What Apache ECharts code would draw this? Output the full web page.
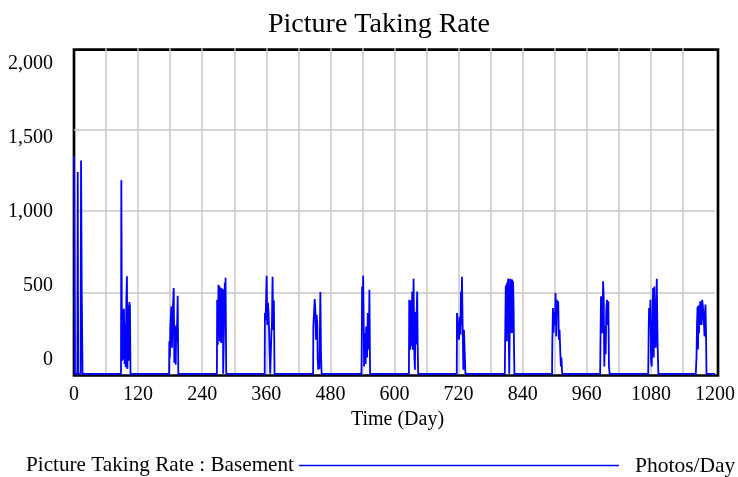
<!DOCTYPE html>
<html>
<head>
<meta charset="utf-8">
<script src="https://cdn.jsdelivr.net/npm/echarts@6/dist/echarts.min.js"></script>
<style>
html,body{margin:0;padding:0;background:#fff;}
#chart{width:738px;height:477px;}
</style>
</head>
<body>
<div id="chart"></div>
<script>
// ---- chart text ----
var chartTitle = 'Picture Taking Rate';
var seriesName = 'Picture Taking Rate : Basement';
var unitLabel = 'Photos/Day';
var xAxisName = 'Time (Day)';
var xTickLabels = ['0','120','240','360','480','600','720','840','960','1080','1200'];
var yTickValues = [0, 500, 1000, 1500, 2000];
var yTickLabels = ['0','500','1,000','1,500','2,000'];

// ---- series values: [day, photos/day], burst by burst ----
var burst0 = [[0,1340],[1,700],[1.8,0],[6.2,0],[7,1240],[7.8,0],[12.3,0],[13.2,1310],[14.5,500],[16,0]];
var burst90 = [[88,0],[88.6,1190],[89.6,300],[90.4,80],[91.5,400],[92.5,90],[93.5,400],[94.7,60],[96,300],[96.8,40],[98,450],[99.1,600],[100,30],[101.2,420],[102.5,80],[103.5,440],[104.7,420],[105.8,0]];
var burst180 = [[178,0],[178.5,200],[179.5,100],[180.5,300],[182.3,414],[183.5,160],[184.5,350],[186.7,527],[187.8,68],[189,291],[190.4,55],[191.5,300],[192.5,200],[194.1,480],[195.3,0]];
var burst270 = [[267.5,0],[268,455],[269.2,178],[270.5,547],[271.2,300],[272,540],[273,200],[274.2,530],[275.4,190],[276.7,525],[277.9,240],[278.6,520],[279.3,0],[281.3,0],[282.3,560],[283,300],[283.7,590],[285,0]];
var burst360 = [[357,0],[357.4,373],[358.7,330],[359.5,440],[360.6,603],[361.8,300],[363,436],[364.3,373],[365.3,250],[366.2,129],[367.4,0],[368.6,0],[369.5,250],[370.5,300],[371.7,596],[373,270],[374.2,450],[375.4,0]];
var burst450 = [[447.6,0],[448.1,291],[449.4,380],[450.6,459],[451.8,394],[453.1,209],[454.3,363],[455.5,300],[456.2,86],[457.4,25],[458.5,60],[459.3,30],[460.5,300],[461.2,502],[462.5,100],[463.6,0]];
var burst540 = [[538,0],[538.5,86],[539.4,537],[540.2,300],[541.3,603],[542.2,350],[543.1,45],[544,250],[545,168],[546,60],[546.9,290],[548,229],[548.7,100],[550,373],[551.2,250],[552,150],[553,517],[554.3,0]];
var burst630 = [[627,0],[627.6,455],[628.5,200],[629.4,148],[630.3,450],[631,170],[631.9,300],[633.2,506],[634.4,148],[635.7,584],[636.5,300],[637.3,100],[638.2,25],[639.4,380],[640.6,180],[641.5,380],[642.5,506],[643.5,150],[644.4,0]];
var burst720 = [[716.6,0],[717,373],[718.2,340],[719.5,250],[720.7,209],[721.6,280],[722.6,350],[723.5,240],[724.5,506],[725.2,300],[726.3,596],[727.6,291],[728.9,25],[730,270],[731.3,280],[732,270],[732.8,0]];
var burst810 = [[806.5,0],[807.1,189],[808.3,540],[809,300],[809.6,547],[810.3,200],[810.8,560],[811.5,250],[812.3,570],[813.3,584],[814,200],[814.8,0],[815.6,0],[816.5,450],[817,584],[817.8,250],[818.5,575],[819.5,400],[820.3,580],[821.2,250],[822,568],[823,400],[823.6,200],[824.5,0]];
var burst900 = [[895,0],[895.5,200],[896.6,404],[897.8,252],[899,380],[900.3,300],[901.5,496],[902.8,230],[904,455],[905.2,370],[906.5,445],[907.7,209],[909,270],[910.2,148],[911.5,45],[912.5,100],[913.9,0]];
var burst990 = [[985,0],[985.6,200],[986.6,476],[987.9,300],[989.1,250],[990.5,568],[991.6,476],[992.8,45],[994.1,290],[995.3,120],[996.5,400],[997.8,455],[999,300],[1000.3,445],[1001.5,45],[1002.8,0]];
var burst1080 = [[1075,0],[1076,300],[1076.6,404],[1077.9,300],[1079.1,455],[1080.3,86],[1081.6,45],[1082.8,300],[1084.1,527],[1085.3,100],[1086.5,537],[1087.8,200],[1089,160],[1090.3,450],[1091,584],[1092,300],[1092.8,148],[1094,0]];
var burst1170 = [[1164,0],[1165.4,106],[1166.3,300],[1167.3,414],[1168.2,150],[1169.2,420],[1170,250],[1171,414],[1171.7,300],[1172.3,445],[1173.2,350],[1174.1,430],[1175,300],[1176,455],[1177.2,420],[1178.5,414],[1179.5,300],[1180.4,229],[1181.3,380],[1182.2,425],[1183.2,250],[1184.1,0]];
var finalPoint = [[1200,0]];

var seriesData = [].concat(burst0, burst90, burst180, burst270, burst360, burst450, burst540,
  burst630, burst720, burst810, burst900, burst990, burst1080, burst1170, finalPoint);

var FONT = 'Liberation Serif';
var chart = echarts.init(document.getElementById('chart'), null, {renderer:'canvas'});

var gridColor = '#c8c8c8';

chart.setOption({
  animation: false,
  backgroundColor: '#ffffff',
  title: {
    text: chartTitle,
    left: 379, top: 11, padding: 0, textAlign: 'center',
    textStyle: {fontFamily: FONT, fontSize: 28, fontWeight: 'normal', color: '#000'}
  },
  legend: {
    data: [seriesName],
    left: 26, top: 455, padding: 0,
    align: 'right',
    icon: 'rect', itemWidth: 320, itemHeight: 1.3,
    itemStyle: {color: '#0000ff'},
    textStyle: {fontFamily: FONT, fontSize: 21.2, color: '#000'}
  },
  graphic: [{
    type: 'text', left: 635, top: 455,
    style: {text: unitLabel, font: '21.5px "Liberation Serif"', fill: '#000'}
  }],
  grid: [
    {left: 74, top: 48.3, width: 644, height: 325.5, show: false},          // data grid
    {left: 74, top: 63.3, width: 644, height: 296.7, show: false},          // y tick label grid
    {left: 74, top: 49.7, width: 644, height: 325.8, show: true,            // frame
     borderColor: '#000', borderWidth: 2.7, backgroundColor: 'transparent'}
  ],
  xAxis: [
    {
      gridIndex: 0, type: 'value', min: 0, max: 1200, interval: 120,
      name: xAxisName, nameLocation: 'middle', nameGap: 36,
      nameTextStyle: {fontFamily: FONT, fontSize: 20, color: '#000', padding: [0,0,0,6]},
      axisLine: {show: false}, axisTick: {show: false},
      axisLabel: {fontFamily: FONT, fontSize: 20, color: '#000', margin: 11,
        formatter: function (v) { return xTickLabels[Math.round(v / 120)] || ''; }},
      splitLine: {show: true, showMinLine: false, showMaxLine: false, lineStyle: {color: gridColor, width: 1.5}},
      minorTick: {show: false, splitNumber: 2},
      minorSplitLine: {show: true, lineStyle: {color: gridColor, width: 1.5}}
    },
    {gridIndex: 1, type: 'value', min: 0, max: 1, show: false},
    {gridIndex: 2, type: 'value', min: 0, max: 1, show: false}
  ],
  yAxis: [
    {
      gridIndex: 0, type: 'value', min: 0, max: 2000, interval: 500,
      axisLine: {show: false}, axisTick: {show: false}, axisLabel: {show: false},
      splitLine: {show: true, showMinLine: false, showMaxLine: false, lineStyle: {color: gridColor, width: 1.5}}
    },
    {
      gridIndex: 1, type: 'value', min: 0, max: 2000, interval: 500,
      axisLine: {show: false}, axisTick: {show: false}, splitLine: {show: false},
      axisLabel: {fontFamily: FONT, fontSize: 20, color: '#000', margin: 21,
        formatter: function (v) { var i = yTickValues.indexOf(v); return i >= 0 ? yTickLabels[i] : ''; }}
    },
    {gridIndex: 2, type: 'value', min: 0, max: 1, show: false}
  ],
  series: [{
    name: seriesName,
    type: 'line',
    xAxisIndex: 0, yAxisIndex: 0,
    data: seriesData,
    showSymbol: false, symbol: 'none',
    clip: false,
    lineStyle: {color: '#0000ff', width: 1.8},
    itemStyle: {color: '#0000ff'},
    z: 5
  }]
});
</script>
</body>
</html>
